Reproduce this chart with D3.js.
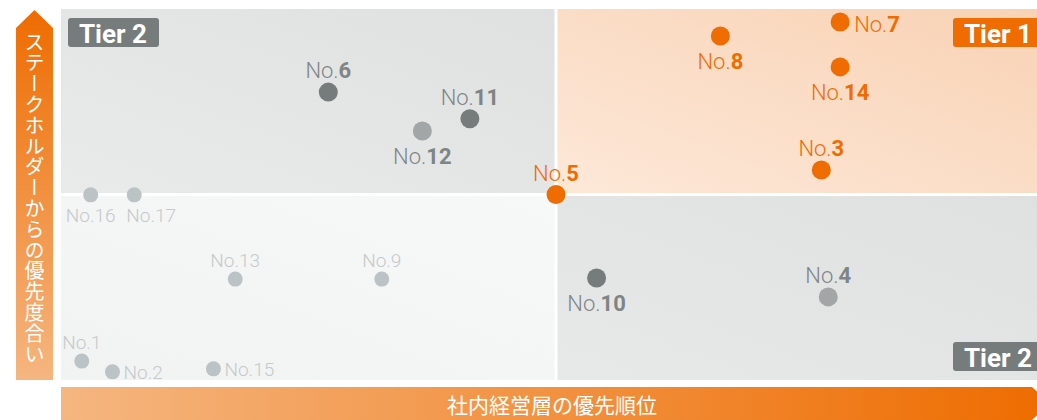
<!DOCTYPE html>
<html>
<head>
<meta charset="utf-8">
<script src="https://cdn.jsdelivr.net/npm/d3@7"></script>
<style>
  body { margin: 0; background: #fff; }
  svg { display: block; font-family: Roboto, "Noto Sans", sans-serif; }
</style>
</head>
<body>
<div id="chart"></div>
<script>
// ------- data --------
var ids     = ['1', '2', '3', '4', '5', '6', '7', '8', '9', '10', '11', '12', '13', '14', '15', '16', '17'];
var xValues = [2.1, 5.2, 76.8, 77.5, 50, 27.0, 78.7, 66.6, 32.4, 54.1, 41.3, 36.5, 17.6, 78.7, 15.4, 3.0, 7.4];
var yValues = [5.1, 2.2, 56.6, 22.4, 50, 77.6, 96.5, 92.7, 27.2, 27.5, 70.4, 67.1, 27.2, 84.4, 3.0, 49.9, 49.9];
var groups  = ['t3', 't3', 't1', 't2m', 't1', 't2', 't1', 't1', 't3', 't2', 't2', 't2m', 't3', 't1', 't3', 't3', 't3'];
var labelSides = ['above', 'right', 'above', 'above', 'above', 'above', 'right', 'below', 'above', 'below',
                  'above', 'below', 'above', 'below', 'right', 'below', 'belowStart'];
var tiers = [
  {name: 'Tier 2', q: 'tl'},
  {name: 'Tier 1', q: 'tr'},
  {name: 'Tier 2', q: 'br'}
];
var xTitle = '社内経営層の優先順位';
var yTitle = 'ステークホルダーからの優先度合い';

var orange = '#ee6c00';

var width = 1037, height = 420;
var plotLeft = 61, plotRight = 1051, plotTop = 9, plotBottom = 380;

var svg = d3.select('#chart').append('svg')
    .attr('width', width)
    .attr('height', height);

var x = d3.scaleLinear().domain([0, 100]).range([plotLeft, plotRight]);
var y = d3.scaleLinear().domain([0, 100]).range([plotBottom, plotTop]);

// ------- gradients --------
var defs = svg.append('defs');
function diag(id, from, to) {
  var g = defs.append('linearGradient').attr('id', id)
      .attr('x1', 0).attr('y1', 1).attr('x2', 1).attr('y2', 0);
  g.append('stop').attr('offset', 0).attr('stop-color', from);
  g.append('stop').attr('offset', 1).attr('stop-color', to);
}
diag('gTL', '#e9eaea', '#dfe0e0');
diag('gTR', '#fde8d8', '#f8d2b4');
diag('gBL', '#f1f2f2', '#f7f8f8');
diag('gBR', '#e7e8e8', '#dfe0e0');

var gx = defs.append('linearGradient').attr('id', 'gX');
gx.append('stop').attr('offset', 0).attr('stop-color', '#f5b680');
gx.append('stop').attr('offset', 1).attr('stop-color', orange);
var gy = defs.append('linearGradient').attr('id', 'gY')
    .attr('x1', 0).attr('y1', 0).attr('x2', 0).attr('y2', 1);
gy.append('stop').attr('offset', 0).attr('stop-color', orange);
gy.append('stop').attr('offset', 1).attr('stop-color', '#f5b680');

// ------- quadrants --------
var gap = 1.5;
var quads = [
  {q: 'tl', x0: 0, x1: 50, y0: 50, y1: 100, fill: 'url(#gTL)'},
  {q: 'tr', x0: 50, x1: 100, y0: 50, y1: 100, fill: 'url(#gTR)'},
  {q: 'bl', x0: 0, x1: 50, y0: 0, y1: 50, fill: 'url(#gBL)'},
  {q: 'br', x0: 50, x1: 100, y0: 0, y1: 50, fill: 'url(#gBR)'}
];
svg.append('g').selectAll('rect')
    .data(quads)
    .enter()
    .append('rect')
    .attr('x', function(d) { return x(d.x0) + (d.x0 > 0 ? gap : 0) })
    .attr('y', function(d) { return y(d.y1) + (d.y1 < 100 ? gap : 0) })
    .attr('width', function(d) { return x(d.x1) - x(d.x0) - gap })
    .attr('height', function(d) { return y(d.y0) - y(d.y1) - gap })
    .style('fill', function(d) { return d.fill });

// ------- tier badges --------
var badgeW = 91, badgeH = 29, pad = 7, padY = 9;
var badge = svg.append('g').selectAll('g')
    .data(tiers)
    .enter()
    .append('g')
    .attr('transform', function(d) {
      var bx = d.q === 'tl' ? x(0) + pad : x(100) - pad - badgeW;
      var by = d.q === 'br' ? y(0) - padY - badgeH : y(100) + padY;
      return 'translate(' + bx + ',' + by + ')';
    });
badge.append('rect')
    .attr('width', badgeW).attr('height', badgeH).attr('rx', 3)
    .style('fill', function(d) { return d.name === 'Tier 1' ? orange : '#767b7b' });
badge.append('text')
    .attr('x', 11).attr('y', 24.5)
    .text(function(d) { return d.name })
    .style('fill', '#fff')
    .style('font-size', '26px')
    .style('font-weight', 700);

// ------- axes arrows --------
var ax0 = 16, ax1 = 53, axMid = (ax0 + ax1) / 2;
svg.append('path')
    .attr('d', 'M' + ax0 + ',28 L' + axMid + ',10 L' + ax1 + ',28 L' + ax1 + ',' + plotBottom + ' L' + ax0 + ',' + plotBottom + ' Z')
    .style('fill', 'url(#gY)');
svg.append('text')
    .attr('x', axMid).attr('y', 32)
    .attr('writing-mode', 'tb')
    .text(yTitle)
    .style('fill', '#fff')
    .style('font-family', '"Noto Sans CJK JP", sans-serif')
    .style('font-size', '20px')
    .style('letter-spacing', '0.8px');

var by0 = 387, by1 = 420, byMid = (by0 + by1) / 2;
svg.append('path')
    .attr('d', 'M' + plotLeft + ',' + by0 + ' L1032,' + by0 + ' L1050,' + byMid + ' L1032,' + by1 + ' L' + plotLeft + ',' + by1 + ' Z')
    .style('fill', 'url(#gX)');
svg.append('text')
    .attr('x', (plotLeft + plotRight) / 2 - 4).attr('y', 413)
    .attr('text-anchor', 'middle')
    .text(xTitle)
    .style('fill', '#fff')
    .style('font-family', '"Noto Sans CJK JP", sans-serif')
    .style('font-size', '21px');

// ------- points --------
var styles = {
  t1:  {dot: orange,    r: 9.5, label: orange,    size: 22, light: false},
  t2:  {dot: '#767b7b', r: 9.5, label: '#7f8484', size: 22, light: false},
  t2m: {dot: '#a2a6a6', r: 9.5, label: '#7f8484', size: 22, light: false},
  t3:  {dot: '#bcc3c6', r: 7.5, label: '#c5c9ca', size: 19, light: true}
};

var points = ids.map(function(id, i) {
  return {id: id, x: xValues[i], y: yValues[i], group: groups[i], side: labelSides[i]};
});

var node = svg.append('g').selectAll('g')
    .data(points)
    .enter()
    .append('g')
    .attr('transform', function(d) { return 'translate(' + x(d.x) + ',' + y(d.y) + ')' });

node.append('circle')
    .attr('r', function(d) { return styles[d.group].r })
    .style('fill', function(d) { return styles[d.group].dot });

var label = node.append('text')
    .attr('text-anchor', function(d) {
      return d.side === 'right' || d.side === 'belowStart' ? 'start' : 'middle';
    })
    .attr('x', function(d) {
      var s = styles[d.group];
      if (d.side === 'right') return s.light ? 11 : 14;
      if (d.side === 'belowStart') return -8;
      return 0;
    })
    .attr('y', function(d) {
      var s = styles[d.group];
      if (d.side === 'above') return s.light ? -12 : -14;
      if (d.side === 'right') return s.light ? 7 : 10;
      return s.light ? 27 : 33;
    })
    .style('fill', function(d) { return styles[d.group].label })
    .style('font-size', function(d) { return styles[d.group].size + 'px' })
    .style('font-weight', 300);

label.append('tspan').text('No.');
label.append('tspan')
    .text(function(d) { return d.id })
    .style('font-weight', function(d) { return styles[d.group].light ? 300 : 700 });
</script>
</body>
</html>
